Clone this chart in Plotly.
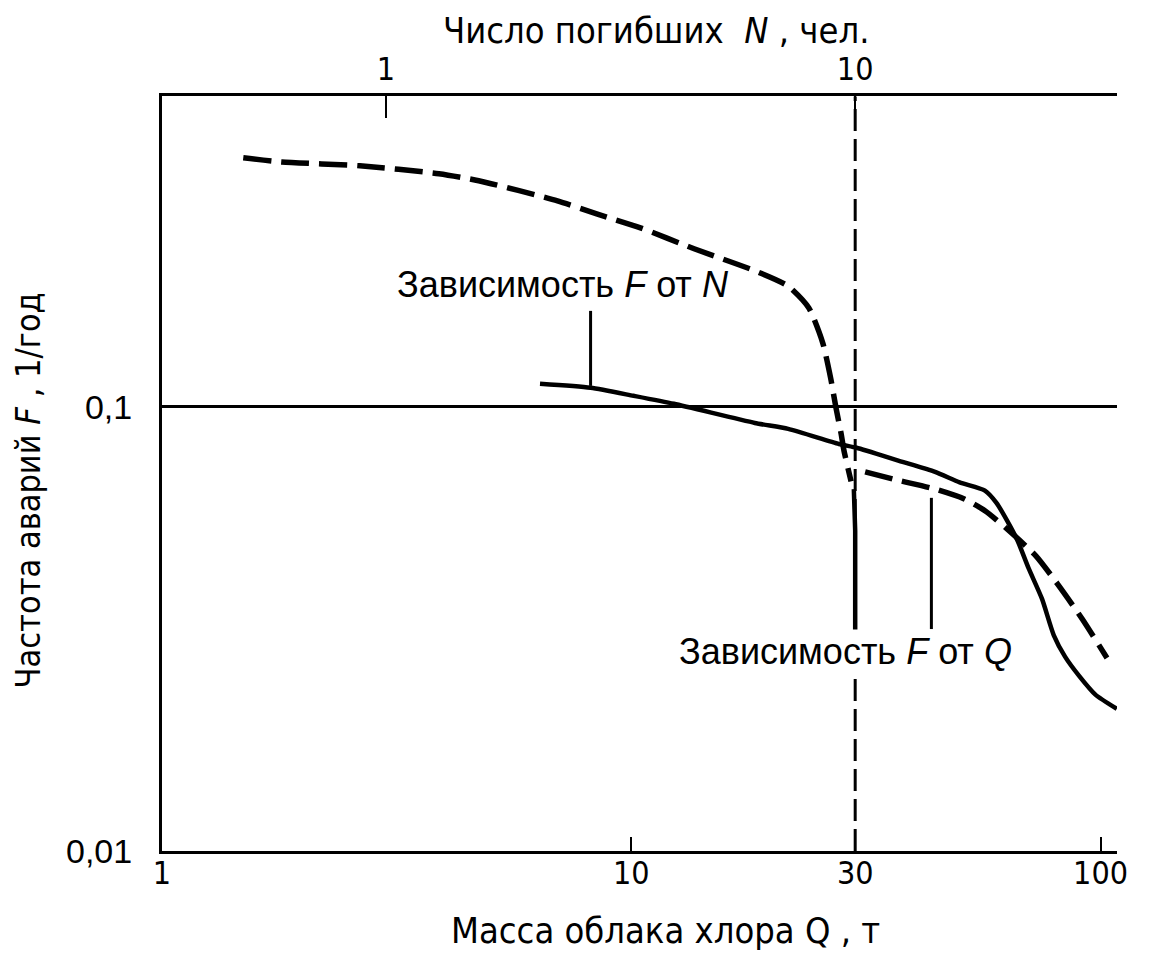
import plotly.graph_objects as go

# ---- data ----
# Dashed curve: F versus cloud mass Q (bottom axis)
q_upper = [1.49, 1.80, 2.64, 3.89, 4.73, 6.96, 8.44, 10.46, 13.61, 18.34, 21.6, 23.9, 25.6, 26.6, 27.3, 28.0, 28.4, 29.4]
f_upper = [0.364, 0.356, 0.349, 0.335, 0.323, 0.291, 0.272, 0.253, 0.227, 0.2025, 0.187, 0.167, 0.139, 0.116, 0.0995, 0.087, 0.0796, 0.068]

q_lower = [31.5, 36.7, 44.4, 51.1, 56.8, 63.2, 72.8, 81.0, 91.4, 103.2]
f_lower = [0.0714, 0.0685, 0.0653, 0.0621, 0.0583, 0.0531, 0.0462, 0.0399, 0.0333, 0.0272]

# Solid curve: F versus number of fatalities N (top axis)
n_solid = [2.13, 2.73, 3.37, 4.11, 6.11, 7.2, 9.23, 10.07, 12.4, 14.8, 16.7, 18.9, 20.0, 21.1, 22.2, 23.4, 25.0, 26.5, 28.0, 30.0, 32.5, 36.1]
f_solid = [0.1127, 0.1104, 0.1059, 0.1016, 0.0920, 0.0892, 0.0825, 0.0809, 0.0756, 0.0714, 0.0676, 0.0648, 0.0608, 0.0553, 0.0499, 0.0434, 0.0370, 0.0306, 0.0274, 0.0248, 0.0225, 0.0209]

# steep solid drop at Q = 30
q_drop = [29.8, 30.0, 30.0]
f_drop = [0.0653, 0.0526, 0.0313]

# vertical dashed reference line Q = 30 (N = 10)
q_ref = [30, 30]
f_ref = [0.01, 0.5]

# leader lines of the two labels
n_lead = [2.73, 2.73]
f_lead_n = [0.1645, 0.1115]
q_lead = [43.6, 43.6]
f_lead_q = [0.0624, 0.0316]

# axis ticks
q_ticks = [1, 10, 30, 100]
q_ticktext = ["1", "10", "30", "100"]
n_ticks = [1, 10]
n_ticktext = ["1", "10"]
f_ticks = [0.01, 0.1]
f_ticktext = ["0,01", "0,1"]

NARROW = "Liberation Sans Narrow, DejaVu Sans Condensed, Liberation Sans, sans-serif"
REG = "Liberation Sans, Arial, sans-serif"

fig = go.Figure()

fig.add_trace(go.Scatter(x=q_ref, y=f_ref, mode="lines", xaxis="x", yaxis="y",
                         line=dict(color="black", width=3, dash="22px,8px"), showlegend=False))
fig.add_trace(go.Scatter(x=q_upper, y=f_upper, mode="lines", xaxis="x", yaxis="y",
                         line=dict(color="black", width=5.5, dash="28px,10px", shape="spline", smoothing=0.6),
                         showlegend=False))
fig.add_trace(go.Scatter(x=q_lower, y=f_lower, mode="lines", xaxis="x", yaxis="y",
                         line=dict(color="black", width=5.5, dash="28px,10px", shape="spline", smoothing=0.6),
                         showlegend=False))
fig.add_trace(go.Scatter(x=q_drop, y=f_drop, mode="lines", xaxis="x", yaxis="y",
                         line=dict(color="black", width=4.5), showlegend=False))
fig.add_trace(go.Scatter(x=q_lead, y=f_lead_q, mode="lines", xaxis="x", yaxis="y",
                         line=dict(color="black", width=3), showlegend=False))
fig.add_trace(go.Scatter(x=n_solid, y=f_solid, mode="lines", xaxis="x2", yaxis="y",
                         line=dict(color="black", width=4.5, shape="spline", smoothing=0.6),
                         showlegend=False))
fig.add_trace(go.Scatter(x=n_lead, y=f_lead_n, mode="lines", xaxis="x2", yaxis="y",
                         line=dict(color="black", width=3), showlegend=False))

fig.update_layout(
    width=1142, height=952,
    margin=dict(l=154, r=33, t=88, b=109),
    paper_bgcolor="white", plot_bgcolor="white",
    xaxis=dict(type="log", range=[0, 2.035], showline=True, linecolor="black", linewidth=3,
               showgrid=False, zeroline=False, ticks="inside", ticklen=14, tickwidth=2,
               tickcolor="black", tickvals=q_ticks, ticktext=q_ticktext, ticklabelstandoff=-8,
               tickfont=dict(family=NARROW, size=32, color="black")),
    xaxis2=dict(type="log", range=[-0.4771, 1.5579], overlaying="x", side="top", anchor="y",
                showline=True, linecolor="black", linewidth=3, showgrid=False, zeroline=False,
                ticks="inside", ticklen=22, tickwidth=2, tickcolor="black",
                tickvals=n_ticks, ticktext=n_ticktext,
                tickfont=dict(family=NARROW, size=32, color="black")),
    yaxis=dict(type="log", range=[-2, -0.3], showline=True, linecolor="black", linewidth=3,
               showgrid=True, gridcolor="black", gridwidth=2.5, zeroline=False, ticks="",
               tickvals=f_ticks, ticktext=f_ticktext, ticklabelstandoff=20,
               tickfont=dict(family=REG, size=34, color="black")),
    annotations=[
        dict(text="Масса облака хлора Q , т", xref="paper", yref="paper", x=0.527, y=-0.105,
             showarrow=False, xanchor="center", yanchor="middle",
             font=dict(family=NARROW, size=36, color="black")),
        dict(text="Число погибших  <i>N</i> , чел.", xref="paper", yref="paper", x=0.517, y=1.087,
             showarrow=False, xanchor="center", yanchor="middle",
             font=dict(family=NARROW, size=36, color="black")),
        dict(text="Частота аварий <i>F</i> , 1/год", xref="paper", yref="paper", x=-0.14, y=0.478,
             showarrow=False, xanchor="center", yanchor="middle", textangle=-90,
             font=dict(family=NARROW, size=34, color="black")),
        dict(text="Зависимость <i>F</i> от <i>N</i>", xref="paper", yref="paper", x=0.420, y=0.750,
             showarrow=False, xanchor="center", yanchor="middle",
             font=dict(family=REG, size=36, color="black")),
        dict(text="Зависимость <i>F</i> от <i>Q</i>", xref="paper", yref="paper", x=0.716, y=0.264,
             showarrow=False, xanchor="center", yanchor="middle", bgcolor="white",
             font=dict(family=REG, size=36, color="black")),
    ],
)

fig.write_html("out.html")
